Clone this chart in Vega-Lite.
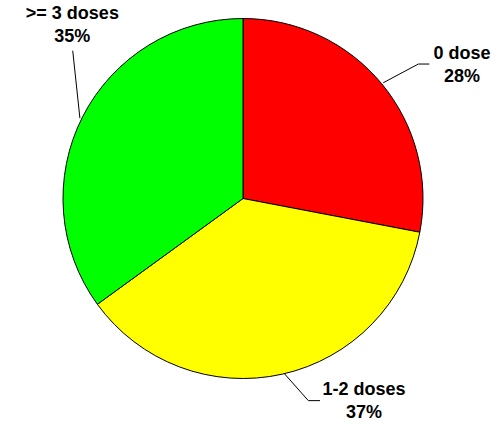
{
  "$schema": "https://vega.github.io/schema/vega-lite/v6.json",
  "autosize": "none",
  "padding": {"left": 0, "top": 0, "right": 17, "bottom": 28},
  "width": 486,
  "height": 397,
  "background": "white",
  "config": {"view": {"stroke": null}},
  "datasets": {
    "slices": [
      {"group": "0 dose", "pct": 28, "order": 1},
      {"group": "1-2 doses", "pct": 37, "order": 2},
      {"group": ">= 3 doses", "pct": 35, "order": 3}
    ],
    "leaders": [
      {"group": "0 dose", "step": 1, "ux": 0.779, "uy": 0.643},
      {"group": "0 dose", "step": 2, "ux": 0.974, "uy": 0.747},
      {"group": "0 dose", "step": 3, "ux": 1.035, "uy": 0.747},
      {"group": "1-2 doses", "step": 1, "ux": 0.228, "uy": -0.971},
      {"group": "1-2 doses", "step": 2, "ux": 0.363, "uy": -1.123},
      {"group": "1-2 doses", "step": 3, "ux": 0.428, "uy": -1.123},
      {"group": ">= 3 doses", "step": 1, "ux": -0.906, "uy": 0.446},
      {"group": ">= 3 doses", "step": 2, "ux": -0.946, "uy": 0.821}
    ],
    "labels": [
      {"label": "0 dose\n28%", "ux": 1.217, "uy": 0.803},
      {"label": "1-2 doses\n37%", "ux": 0.672, "uy": -1.064},
      {"label": ">= 3 doses\n35%", "ux": -0.948, "uy": 1.023}
    ]
  },
  "layer": [
    {
      "data": {"name": "slices"},
      "mark": {"type": "arc", "outerRadius": 180, "stroke": "black", "strokeWidth": 1},
      "encoding": {
        "theta": {"field": "pct", "type": "quantitative", "stack": true},
        "order": {"field": "order", "type": "quantitative"},
        "color": {
          "field": "group",
          "type": "nominal",
          "scale": {"domain": ["0 dose", "1-2 doses", ">= 3 doses"], "range": ["#FF0000", "#FFFF00", "#00FF00"]},
          "legend": null
        }
      }
    },
    {
      "data": {"name": "leaders"},
      "mark": {"type": "line", "color": "black", "strokeWidth": 1},
      "encoding": {
        "x": {"field": "ux", "type": "quantitative", "scale": {"domain": [-1.35, 1.35], "nice": false, "zero": false}, "axis": null},
        "y": {"field": "uy", "type": "quantitative", "scale": {"domain": [-1.1028, 1.1028], "nice": false, "zero": false}, "axis": null},
        "detail": {"field": "group", "type": "nominal"},
        "order": {"field": "step", "type": "quantitative"}
      }
    },
    {
      "data": {"name": "labels"},
      "mark": {"type": "text", "font": "Liberation Sans", "fontSize": 18, "fontWeight": "bold", "color": "black", "lineBreak": "\n", "lineHeight": 23, "align": "center", "baseline": "middle"},
      "encoding": {
        "x": {"field": "ux", "type": "quantitative", "scale": {"domain": [-1.35, 1.35], "nice": false, "zero": false}, "axis": null},
        "y": {"field": "uy", "type": "quantitative", "scale": {"domain": [-1.1028, 1.1028], "nice": false, "zero": false}, "axis": null},
        "text": {"field": "label", "type": "nominal"}
      }
    }
  ]
}
